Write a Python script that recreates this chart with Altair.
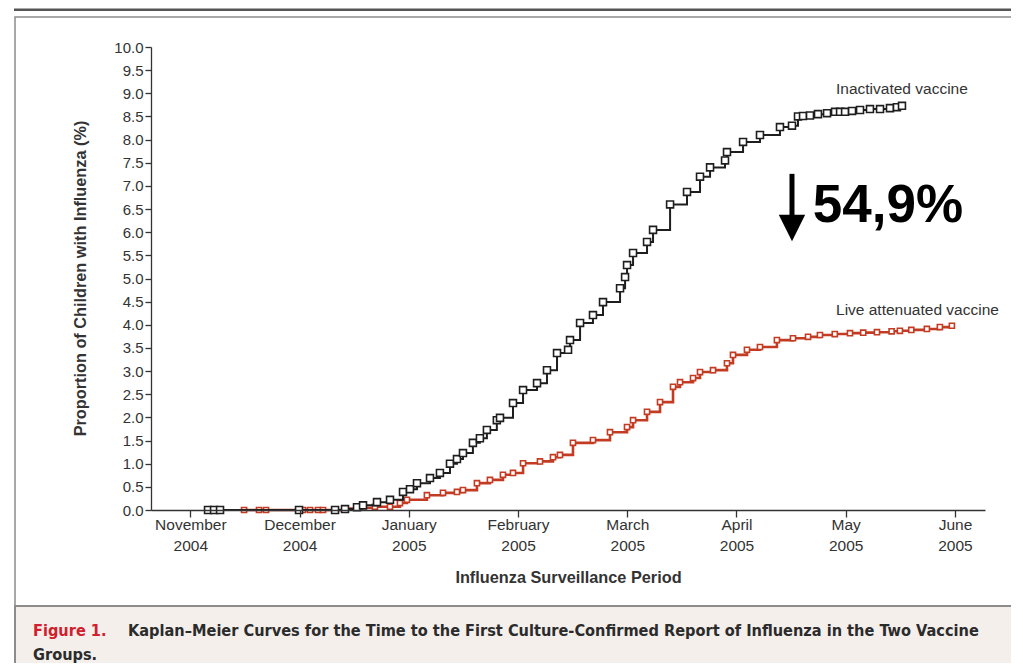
import json
import altair as alt
import pandas as pd

# ---- axis categories ----
months = ["November", "December", "January", "February", "March", "April", "May", "June"]
years = ["2004", "2004", "2005", "2005", "2005", "2005", "2005", "2005"]
y_ticks = [0.0, 0.5, 1.0, 1.5, 2.0, 2.5, 3.0, 3.5, 4.0, 4.5, 5.0,
           5.5, 6.0, 6.5, 7.0, 7.5, 8.0, 8.5, 9.0, 9.5, 10.0]

# ---- Kaplan-Meier curves (x: months since 1 Nov 2004, y: % with influenza) ----
inact_t = [0.162, 0.217, 0.272, 0.995, 1.325, 1.416, 1.526, 1.581, 1.709, 1.828,
           1.947, 2.011, 2.075, 2.194, 2.285, 2.377, 2.441, 2.496, 2.587, 2.651,
           2.715, 2.806, 2.835, 2.954, 3.046, 3.174, 3.265, 3.357, 3.458, 3.476,
           3.568, 3.686, 3.778, 3.934, 3.980, 3.998, 4.053, 4.181, 4.236, 4.392,
           4.547, 4.666, 4.758, 4.895, 4.913, 5.060, 5.215, 5.398, 5.508, 5.563,
           5.609, 5.673, 5.746, 5.829, 5.902, 5.948, 5.994, 6.058, 6.131, 6.222,
           6.314, 6.405, 6.469, 6.515]
inact_p = [0.00, 0.00, 0.00, 0.00, 0.00, 0.02, 0.06, 0.10, 0.17, 0.22,
           0.39, 0.45, 0.58, 0.69, 0.80, 1.00, 1.10, 1.23, 1.45, 1.55,
           1.73, 1.94, 1.99, 2.31, 2.59, 2.74, 3.02, 3.39, 3.46, 3.67,
           4.04, 4.21, 4.49, 4.79, 5.03, 5.29, 5.55, 5.79, 6.05, 6.60,
           6.87, 7.20, 7.40, 7.55, 7.73, 7.95, 8.10, 8.27, 8.30, 8.50,
           8.51, 8.52, 8.55, 8.57, 8.60, 8.60, 8.60, 8.62, 8.64, 8.66,
           8.66, 8.68, 8.70, 8.73]

live_t = [0.492, 0.629, 0.693, 1.032, 1.096, 1.169, 1.215, 1.325, 1.416, 1.553,
          1.690, 1.828, 1.919, 1.983, 2.166, 2.313, 2.441, 2.496, 2.624, 2.743,
          2.862, 2.954, 3.046, 3.201, 3.320, 3.384, 3.503, 3.686, 3.842, 3.998,
          4.053, 4.181, 4.300, 4.419, 4.483, 4.602, 4.666, 4.785, 4.913, 4.968,
          5.096, 5.215, 5.370, 5.517, 5.655, 5.764, 5.900, 6.039, 6.160, 6.286,
          6.420, 6.496, 6.600, 6.743, 6.862, 6.972]
live_p = [0.00, 0.00, 0.00, 0.00, 0.00, 0.00, 0.00, 0.00, 0.03, 0.05,
          0.07, 0.07, 0.15, 0.22, 0.32, 0.37, 0.39, 0.43, 0.58, 0.65,
          0.76, 0.80, 1.01, 1.05, 1.14, 1.19, 1.45, 1.51, 1.68, 1.79,
          1.94, 2.12, 2.33, 2.66, 2.76, 2.85, 2.98, 3.02, 3.17, 3.35,
          3.46, 3.52, 3.67, 3.71, 3.74, 3.78, 3.80, 3.82, 3.83, 3.84,
          3.86, 3.87, 3.89, 3.91, 3.95, 3.98]

series_names = ["Inactivated vaccine", "Live attenuated vaccine"]
reduction_label = "54,9%"
caption_head = "Figure 1."
caption_line1 = "Kaplan\u2013Meier Curves for the Time to the First Culture-Confirmed Report of Influenza in the Two Vaccine"
caption_line2 = "Groups."

BLACK = "#1e1e1e"
RED = "#c23b22"
TXT = "#333333"
FONT = "Liberation Sans, Arial, sans-serif"

df_inact = pd.DataFrame({"t": inact_t, "p": inact_p})
df_live = pd.DataFrame({"t": live_t, "p": live_p})

W, H = 834, 463
xs = alt.Scale(domain=[-0.36, 7.275], nice=False, zero=False)
ys = alt.Scale(domain=[0, 10], nice=False, zero=True)

label_expr = "[{m}[datum.value], {y}[datum.value]]".format(m=json.dumps(months), y=json.dumps(years))

x_axis = alt.Axis(values=list(range(len(months))), labelExpr=label_expr,
                  title="Influenza Surveillance Period",
                  labelFontSize=15.5, labelLineHeight=21, labelPadding=0, tickSize=7,
                  labelOverlap=False, labelFlush=False,
                  titleFontSize=16.3, titleFontWeight="bold", titleY=67, titleBaseline="middle",
                  grid=False, zindex=1)
y_axis = alt.Axis(values=y_ticks, format=".1f",
                  title="Proportion of Children with Influenza (%)",
                  labelFontSize=15, labelPadding=2, tickSize=6, labelOverlap=False, labelFlush=False,
                  titleFontSize=16.3, titleFontWeight="bold", titleAngle=270,
                  titleX=-71, titleY=231, titleAlign="center", titleBaseline="middle",
                  grid=False, zindex=1)


def X(field):
    return alt.X(field, type="quantitative", scale=xs, axis=x_axis)


def Y(field):
    return alt.Y(field, type="quantitative", scale=ys, axis=y_axis)


one = pd.DataFrame({"k": [0]})

# decorative frame (pixel offsets relative to plot origin)
top_line = alt.Chart(one).mark_rect(color="#555555").encode(
    x=alt.value(-137), x2=alt.value(1000), y=alt.value(-38.5), y2=alt.value(-36))
box = alt.Chart(one).mark_rect(fill="white", fillOpacity=0, stroke="#8c8c8c", strokeWidth=1.5).encode(
    x=alt.value(-136), x2=alt.value(1000), y=alt.value(-30), y2=alt.value(700))
cap_bg = alt.Chart(one).mark_rect(fill="#f4efeb", stroke="#8c8c8c", strokeWidth=2).encode(
    x=alt.value(-136), x2=alt.value(1000), y=alt.value(559), y2=alt.value(700))

cap_font = "DejaVu Sans Condensed, DejaVu Sans, sans-serif"
CAP_FS = 16.2
cap1 = alt.Chart(one).mark_text(text=caption_head, color="#d0202e", font=cap_font, fontSize=CAP_FS,
                                fontWeight="bold", align="left", baseline="middle").encode(
    x=alt.value(-118), y=alt.value(584))
cap2 = alt.Chart(one).mark_text(text=caption_line1, color="#2b2b2b", font=cap_font, fontSize=CAP_FS,
                                fontWeight="bold", align="left", baseline="middle").encode(
    x=alt.value(-23), y=alt.value(584))
cap3 = alt.Chart(one).mark_text(text=caption_line2, color="#2b2b2b", font=cap_font, fontSize=CAP_FS,
                                fontWeight="bold", align="left", baseline="middle").encode(
    x=alt.value(-118), y=alt.value(608))

base_i = alt.Chart(df_inact)
line_i = base_i.mark_line(interpolate="step-after", color=BLACK, strokeWidth=2).encode(
    x=X("t"), y=Y("p"))
pts_i = base_i.mark_point(shape="square", size=48, filled=True, fill="white", stroke=BLACK,
                          strokeWidth=1.6, opacity=1).encode(x=X("t"), y=Y("p"))

base_l = alt.Chart(df_live)
line_l = base_l.mark_line(interpolate="step-after", color=RED, strokeWidth=2.6).encode(
    x=X("t"), y=Y("p"))
pts_l = base_l.mark_point(shape="square", size=26, filled=True, fill="white", stroke=RED,
                          strokeWidth=1.6, opacity=1).encode(x=X("t"), y=Y("p"))

ann = pd.DataFrame({"label": series_names, "t": [5.911, 5.911], "p": [9.09, 4.32]})
ann_txt = alt.Chart(ann).mark_text(align="left", baseline="middle", fontSize=15.5, color=TXT,
                                   font=FONT).encode(x=X("t"), y=Y("p"), text="label:N")

red_df = pd.DataFrame({"label": [reduction_label], "t": [5.699], "p": [6.22]})
red_txt = alt.Chart(red_df).mark_text(align="left", baseline="alphabetic", fontSize=53,
                                      fontWeight="bold", color="black", font=FONT).encode(
    x=X("t"), y=Y("p"), text="label:N")

arrow_df = pd.DataFrame({"t": [5.508], "p1": [7.26], "p2": [6.30], "ph": [6.09]})
shaft = alt.Chart(arrow_df).mark_rule(color="black", strokeWidth=5).encode(
    x=X("t"), y=Y("p1"), y2="p2:Q")
head = alt.Chart(arrow_df).mark_point(shape="M-1,-1L1,-1L0,1Z", size=700, filled=True,
                                      color="black", opacity=1).encode(x=X("t"), y=Y("ph"))

chart = alt.layer(
    top_line, box, cap_bg, cap1, cap2, cap3,
    line_l, pts_l, line_i, pts_i, ann_txt, shaft, head, red_txt
).properties(
    width=W, height=H,
    background="white",
    autosize=alt.AutoSizeParams(type="none"),
    padding={"left": 143, "top": 39, "right": 26, "bottom": 153},
).configure_view(stroke="transparent", strokeWidth=0).configure_axis(
    labelFont=FONT, titleFont=FONT, labelColor=TXT, titleColor=TXT,
    domainColor=TXT, tickColor=TXT, domainWidth=1.3, tickWidth=1.3,
)

chart.save("out.html", embed_options={"renderer": "svg", "actions": False})
